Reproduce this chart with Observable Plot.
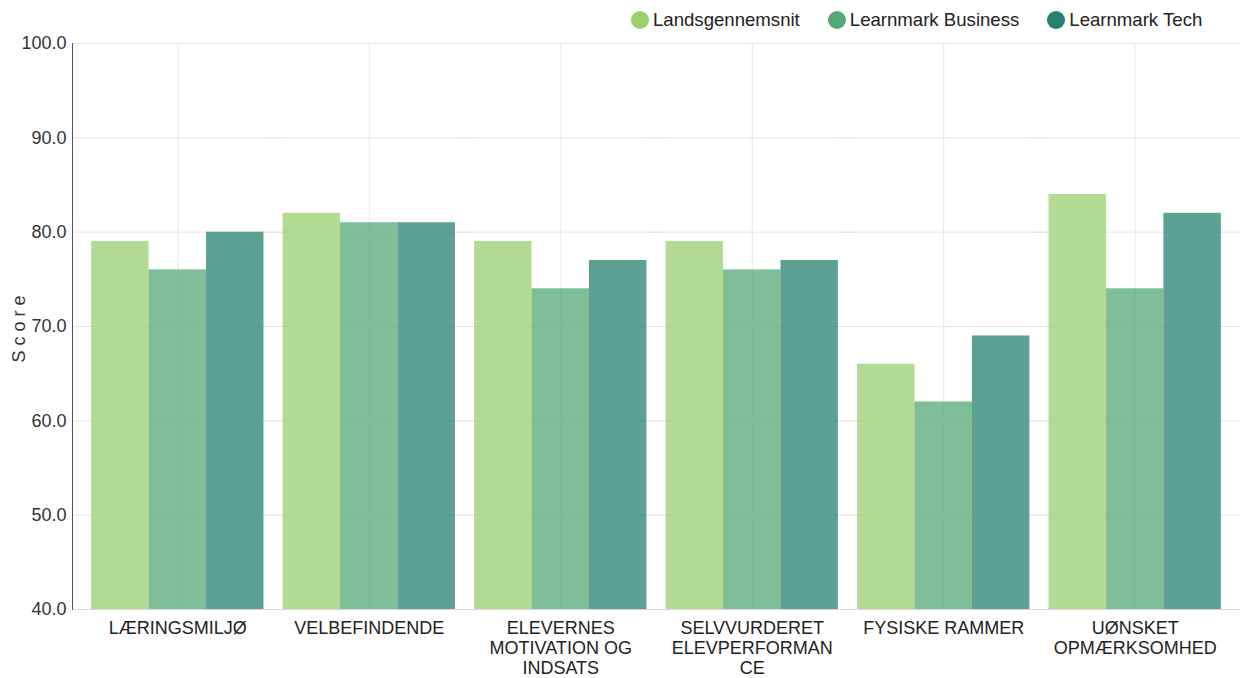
<!DOCTYPE html>
<html><head><meta charset="utf-8">
<script src="https://cdn.jsdelivr.net/npm/d3@7"></script>
<script src="https://cdn.jsdelivr.net/npm/@observablehq/plot@0.6"></script>
<style>
body{margin:0;background:#fff;font-family:"Liberation Sans",Arial,sans-serif;}
#wrap{position:relative;width:1243px;height:678px;}
#legend{position:absolute;top:10px;left:631px;display:flex;align-items:center;font-size:18.6px;color:#222;line-height:20px;}
.item{display:flex;align-items:center;margin-right:28px}
.sw{width:18px;height:18px;border-radius:50%;margin-right:4px}
#wrap svg g[aria-label="y-axis label"] text{letter-spacing:5px}
</style></head><body>
<div id="wrap"><div id="legend"></div></div>
<script>
const categories = ["LÆRINGSMILJØ","VELBEFINDENDE","ELEVERNES MOTIVATION OG INDSATS","SELVVURDERET ELEVPERFORMANCE","FYSISKE RAMMER","UØNSKET OPMÆRKSOMHED"];
const categoryLabels = ["LÆRINGSMILJØ","VELBEFINDENDE","ELEVERNES\nMOTIVATION OG\nINDSATS","SELVVURDERET\nELEVPERFORMAN\nCE","FYSISKE RAMMER","UØNSKET\nOPMÆRKSOMHED"];
const series = ["Landsgennemsnit","Learnmark Business","Learnmark Tech"];
const landsgennemsnit = [79,82,79,79,66,84];
const learnmarkBusiness = [76,81,74,76,62,74];
const learnmarkTech = [80,81,77,77,69,82];
const colors = ["#98d06f","#53a875","#278070"];
const yTicks = [40,50,60,70,80,90,100];

const seriesValues = [landsgennemsnit, learnmarkBusiness, learnmarkTech];
const data = categories.flatMap((c,i)=> series.map((s,j)=>({category:c, series:s, value:seriesValues[j][i]})));

const legend = document.getElementById("legend");
series.forEach((s,j)=>{
  const it = document.createElement("div"); it.className="item";
  const sw = document.createElement("span"); sw.className="sw"; sw.style.background=colors[j];
  const t = document.createElement("span"); t.textContent=s;
  it.appendChild(sw); it.appendChild(t); legend.appendChild(it);
});

const gap = 19.15; // outer/inner facet gap in px
const chart = Plot.plot({
  width:1243, height:678, marginTop:43, marginBottom:69, marginLeft:72, marginRight:3,
  style:{fontFamily:'"Liberation Sans",Arial,sans-serif', fontSize:"18px", color:"#333", background:"#fff"},
  fx:{domain:categories, paddingInner:0.1, paddingOuter:0.1, round:false, label:null},
  x:{domain:series, padding:0, round:false, axis:null},
  y:{domain:[yTicks[0], yTicks[yTicks.length-1]]},
  color:{domain:series, range:colors},
  marks:[
    Plot.ruleY(yTicks, {stroke:"#e6e6e6", insetLeft:-gap, insetRight:-gap}),
    Plot.ruleX(categories, {fx:d=>d, x:()=>series[1], stroke:"#e6e6e6"}),
    Plot.barY(data, {fx:"category", x:"series", y1:yTicks[0], y2:"value", fill:"series", fillOpacity:0.75}),
    Plot.ruleY([yTicks[0]], {stroke:"#d9d9d9", insetLeft:-gap, insetRight:-gap}),
    Plot.axisY(yTicks, {tickSize:0, tickPadding:6, dx:-gap, tickFormat:d=>d.toFixed(1), label:"Score", labelArrow:"none", labelAnchor:"center", labelOffset:79, fill:"#333"}),
    Plot.axisFx({anchor:"bottom", tickSize:0, tickPadding:10, tickFormat:d=>categoryLabels[categories.indexOf(d)], label:null, lineHeight:1.12, fill:"#222"}),
    Plot.frame({anchor:"left", fx:()=>categories[0], dx:-gap, stroke:"#555"})
  ]
});
document.getElementById("wrap").appendChild(chart);
</script>
</body></html>
